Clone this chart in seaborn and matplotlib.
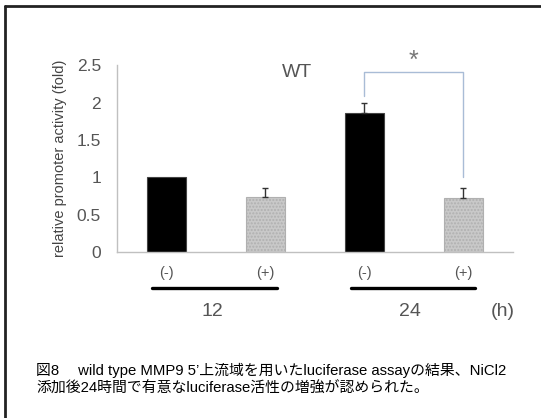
import numpy as np
import pandas as pd
import matplotlib
matplotlib.use('Agg')
import matplotlib.pyplot as plt
import matplotlib.transforms as mtransforms
from matplotlib.lines import Line2D
import seaborn as sns

# data
conditions = ['12(-)', '12(+)', '24(-)', '24(+)']
treatment = ['(-)', '(+)', '(-)', '(+)']
hours = ['12', '24']
activity = [1.00, 0.74, 1.86, 0.72]
err_up = [0.0, 0.12, 0.13, 0.14]
yticks = [0, 0.5, 1, 1.5, 2, 2.5]
ytick_labels = ['0', '0.5', '1', '1.5', '2', '2.5']

caption = ('図8\u3000 wild type MMP9 5’上流域を用いたluciferase assayの結果、NiCl2\n'
           '添加後24時間で有意なluciferase活性の増強が認められた。')

sns.set_style('white')
plt.rcParams['font.family'] = ['Liberation Sans', 'Noto Sans CJK JP', 'DejaVu Sans']

df = pd.DataFrame({'cond': conditions, 'value': activity})

fig = plt.figure(figsize=(5.41, 4.18), dpi=100)
ax = fig.add_axes([0.216, 0.397, 0.732, 0.447])

colors = ['black', '#c9c9c9', 'black', '#c9c9c9']
sns.barplot(data=df, x='cond', y='value', hue='cond', palette=colors,
            width=0.4, legend=False, errorbar=None, ax=ax,
            edgecolor='#444', linewidth=0.8)
for i, p in enumerate(ax.patches):
    if i in (1, 3):
        p.set_hatch('.....')
        p.set_edgecolor('#b0b0b0')

pos = np.arange(len(conditions))
idx = [i for i in pos if err_up[i] > 0]
ax.errorbar(pos[idx], np.array(activity)[idx],
            yerr=[np.zeros(len(idx)), np.array(err_up)[idx]],
            fmt='none', ecolor='#333', elinewidth=1, capsize=2, capthick=1)

ax.set_xlim(-0.5, 3.5)
ax.set_ylim(0, 2.5)
ax.set_yticks(yticks)
ax.set_yticklabels(ytick_labels, fontsize=12.5, color='#555')
ax.set_xticks([-0.5, 0.5, 1.5, 2.5, 3.5])
ax.set_xticklabels([])
ax.set_xlabel('')
ax.tick_params(axis='both', direction='out', length=5, width=0.8,
               color='#bbbbbb', pad=3)
ax.tick_params(axis='y', pad=6.5)
for s in ['top', 'right']:
    ax.spines[s].set_visible(False)
for s in ['left', 'bottom']:
    ax.spines[s].set_color('#c0c0c0')
    ax.spines[s].set_linewidth(1)

ax.set_ylabel('relative promoter activity (fold)', fontsize=10.5, color='#444')
ax.yaxis.set_label_coords(-0.125, 0.5)

# lower labels
trans = mtransforms.blended_transform_factory(ax.transData, ax.transAxes)
for i, t in enumerate(treatment):
    ax.text(i, -0.112, t, transform=trans, ha='center', va='center',
            fontsize=10.5, color='#555')
for k, h in enumerate(hours):
    x0 = 2 * k - 0.14
    x1 = 2 * k + 1.12
    ax.add_line(Line2D([x0, x1], [-0.193, -0.193], transform=trans,
                       color='black', linewidth=2.4, clip_on=False))
    ax.text(2 * k + 0.46, -0.32, h, transform=trans, ha='center',
            va='center', fontsize=14, color='#555')
ax.text(3.4, -0.32, '(h)', transform=trans, ha='center', va='center',
        fontsize=14, color='#555')

# annotations
ax.text(1.32, 2.4, 'WT', ha='center', va='center', fontsize=14, color='#555')
ax.plot([2, 2, 3, 3], [2.09, 2.41, 2.41, 1.0], color='#a9bcd6', linewidth=1,
        clip_on=False)
ax.text(2.5, 2.56, '*', ha='center', va='center', fontsize=18, color='#777')

# frame around figure (top and left visible)
fig.add_artist(Line2D([0.0092, 0.0092], [0, 0.9856], transform=fig.transFigure,
                      color='#222', linewidth=2))
fig.add_artist(Line2D([0.0092, 1], [0.9856, 0.9856], transform=fig.transFigure,
                      color='#222', linewidth=2))

fig.text(36 / 541, 1 - 379 / 418, caption, fontsize=10.7, color='black',
         ha='left', va='center', linespacing=1.3,
         family=['Liberation Sans', 'Noto Sans CJK JP'])

fig.savefig('out.png', dpi=100)
